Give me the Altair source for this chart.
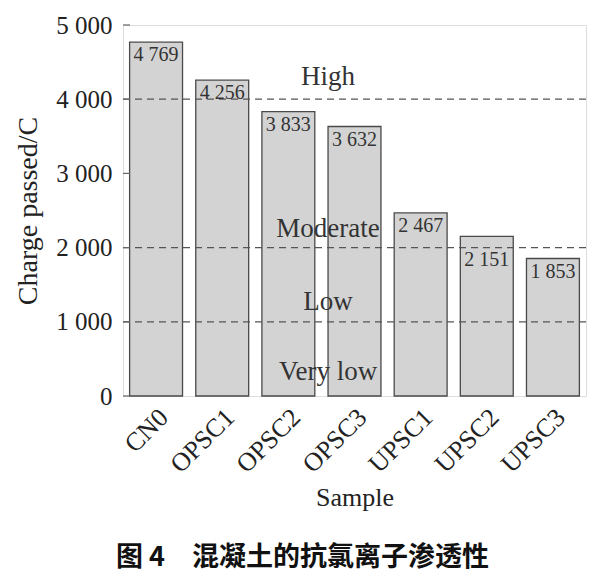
import altair as alt
import pandas as pd

samples = ["CN0", "OPSC1", "OPSC2", "OPSC3", "UPSC1", "UPSC2", "UPSC3"]
charge = [4769, 4256, 3833, 3632, 2467, 2151, 1853]
thresholds = [1000, 2000, 4000]
levels = ["High", "Moderate", "Low", "Very low"]
level_pos = [4300, 2250, 1270, 330]
y_ticks = [0, 1000, 2000, 3000, 4000, 5000]

SERIF = "Liberation Serif"

df = pd.DataFrame({"Sample": samples, "Charge": charge})
df_thr = pd.DataFrame({"t": thresholds})
df_lvl = pd.DataFrame({"level": levels, "pos": level_pos, "anchor": ["OPSC3"] * len(levels)})
df_ticks = pd.DataFrame({"v": y_ticks})

yscale = alt.Scale(domain=[0, 5000], nice=False)
xscale = alt.Scale(domain=samples, paddingInner=0.2, paddingOuter=0.1)

x_enc = alt.X("Sample:N", scale=xscale, sort=samples, title="Sample",
              axis=alt.Axis(labelAngle=-45, labelAlign="right", labelBaseline="middle",
                            ticks=False, domain=False, labelPadding=17, labelOffset=8,
                            labelFont=SERIF, labelFontSize=26, labelColor="#222",
                            titleFont=SERIF, titleFontSize=26, titleFontWeight="normal",
                            titleColor="#222", titlePadding=7))
y_enc = alt.Y("Charge:Q", scale=yscale, title="Charge passed/C",
              axis=alt.Axis(values=y_ticks, ticks=False, domain=False, grid=False,
                            labelExpr="replace(format(datum.value, ','), ',', ' ')",
                            labelFont=SERIF, labelFontSize=25, labelColor="#222", labelPadding=11,
                            titleFont=SERIF, titleFontSize=28, titleFontWeight="normal",
                            titleColor="#222", titlePadding=13))

bars = alt.Chart(df).mark_bar(fill="#d3d3d3", stroke="#4a4a4a", strokeWidth=1.3).encode(
    x=x_enc, y=y_enc)

rules = alt.Chart(df_thr).mark_rule(strokeDash=[7, 5], color="#555", strokeWidth=1.2).encode(
    y=alt.Y("t:Q", scale=yscale))

labels = alt.Chart(df).transform_calculate(
    lp="datum.Charge > 2000 && datum.Charge < 2250 ? datum.Charge - 140 : datum.Charge",
    txt="replace(format(datum.Charge, ','), ',', ' ')"
).mark_text(baseline="top", dy=3, font=SERIF, fontSize=20, color="#333").encode(
    x=alt.X("Sample:N", scale=xscale, sort=samples),
    y=alt.Y("lp:Q", scale=yscale),
    text="txt:N")

lvl_text = alt.Chart(df_lvl).mark_text(font=SERIF, fontSize=27, color="#333", baseline="middle").encode(
    x=alt.X("anchor:N", scale=xscale, sort=samples, bandPosition=0),
    y=alt.Y("pos:Q", scale=yscale),
    text="level:N")

ticks = alt.Chart(df_ticks).mark_rule(color="#666", strokeWidth=1.2).encode(
    x=alt.value(0), x2=alt.value(7), y=alt.Y("v:Q", scale=yscale))

chart = alt.layer(bars, rules, labels, lvl_text, ticks).properties(
    width=463, height=371,
    autosize=alt.AutoSizeParams(type="none"),
    padding={"left": 115, "top": 17, "right": 10, "bottom": 190},
    title=alt.TitleParams("图 4\u3000混凝土的抗氯离子渗透性", orient="bottom", anchor="middle",
                          font="Noto Sans CJK SC", fontWeight="bold", fontSize=27,
                          color="#111", offset=35, dx=-52),
).configure_view(stroke="#8a8a8a", strokeWidth=1.5).configure(background="white")

chart.save("out.html", embed_options={"renderer": "svg", "actions": False})
